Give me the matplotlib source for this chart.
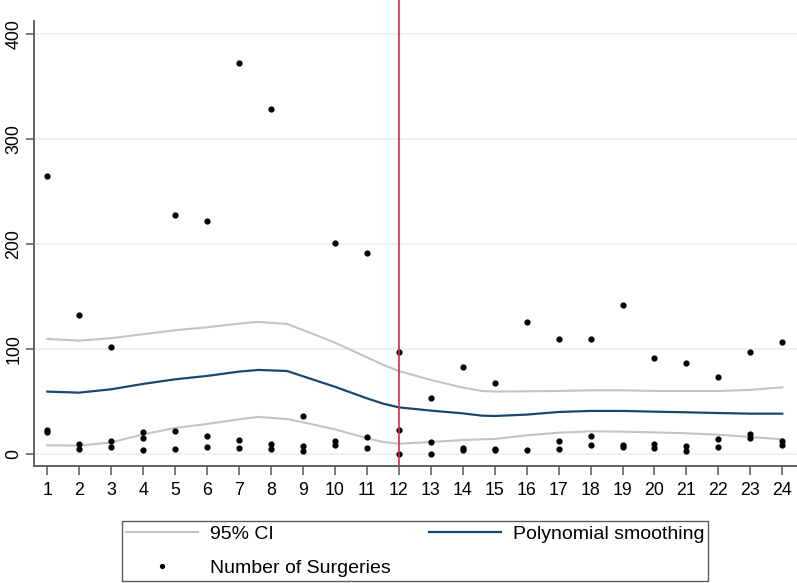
import matplotlib
matplotlib.use("Agg")
import matplotlib.pyplot as plt
from matplotlib.lines import Line2D

plt.rcParams['font.family'] = ['Liberation Sans', 'DejaVu Sans']

# observed surgeries per month (several per month)
months = [1, 1, 1,
          2, 2, 2,
          3, 3, 3,
          4, 4, 4,
          5, 5, 5,
          6, 6, 6,
          7, 7, 7,
          8, 8, 8,
          9, 9, 9,
          10, 10, 10,
          11, 11, 11,
          12, 12, 12,
          13, 13, 13,
          14, 14, 14,
          15, 15, 15,
          16, 16,
          17, 17, 17,
          18, 18, 18,
          19, 19, 19,
          20, 20, 20,
          21, 21, 21,
          22, 22, 22,
          23, 23, 23,
          24, 24, 24]
surgeries = [265, 23, 21,
             132, 10, 5,
             102, 12, 7,
             21, 15, 4,
             227, 22, 5,
             222, 17, 7,
             372, 13, 6,
             328, 10, 5,
             36, 8, 3,
             201, 12, 9,
             191, 16, 6,
             97, 23, 0,
             53, 11, 0,
             83, 6, 4,
             68, 5, 4,
             126, 4,
             109, 12, 5,
             109, 17, 9,
             142, 9, 7,
             91, 10, 6,
             87, 8, 3,
             73, 14, 7,
             97, 19, 15,
             107, 12, 9]

# smoothing grid and curves
grid = [1, 2, 3, 4, 5, 6, 7, 7.6, 8.5, 9, 10, 11, 11.5, 12, 13, 14, 14.6,
        15, 16, 17, 18, 19, 20, 21, 22, 23, 24]
fit = [59.4, 58.4, 61.6, 66.7, 71.1, 74.3, 78.4, 80.0, 79.0, 74.0, 64.0, 53.0,
       48.0, 44.4, 41.3, 38.7, 36.5, 36.2, 37.5, 40.0, 41.0, 41.0, 40.3, 39.7,
       39.0, 38.4, 38.4]
ci_hi = [109.5, 107.9, 110.2, 114.0, 117.8, 120.6, 124.1, 125.7, 123.8, 118.0,
         106.0, 92.0, 85.0, 79.0, 70.5, 63.2, 60.0, 59.4, 59.7, 60.0, 60.6,
         60.6, 60.0, 60.0, 60.0, 61.0, 63.5]
ci_lo = [8.3, 8.0, 11.1, 18.7, 24.8, 28.6, 33.0, 35.3, 33.3, 30.2, 23.5, 15.0,
         11.5, 9.8, 11.4, 13.3, 14.0, 14.3, 17.8, 20.3, 21.6, 21.3, 20.6, 19.7,
         18.4, 16.2, 14.0]

cutoff = 12
x_ticks = list(range(1, 25))
y_ticks = [0, 100, 200, 300, 400]

gray = '#c4c4c4'
navy = '#1a476f'

fig = plt.figure(figsize=(7.97, 5.83), dpi=100)
ax = fig.add_axes([34 / 797, 117 / 583, 763 / 797, 466 / 583])

for yt in y_ticks:
    ax.axhline(yt, color='#e8f1f2', lw=1.2, zorder=0)

ax.plot(grid, ci_hi, color=gray, lw=1.5, zorder=2)
ax.plot(grid, ci_lo, color=gray, lw=1.5, zorder=2)
ax.plot(grid, fit, color=navy, lw=1.6, zorder=3)
ax.scatter(months, surgeries, s=12, color='black', zorder=4)
ax.axvline(cutoff, color='#d42a4c', lw=1.2, zorder=5)

ax.set_xlim(0.584, 24.46)
ax.set_ylim(-11.4, 432)

for s in ['top', 'right']:
    ax.spines[s].set_visible(False)
for s in ['left', 'bottom']:
    ax.spines[s].set_color('#555555')
    ax.spines[s].set_linewidth(1.3)
ax.spines['left'].set_bounds(-11.4, 412)

ax.set_xticks(x_ticks)
ax.set_yticks(y_ticks)
ax.tick_params(axis='both', direction='out', length=6.5, width=1.1,
               color='#555555', labelsize=12.8, pad=5)
ax.tick_params(axis='y', length=5.5, pad=3)
for lab in ax.get_yticklabels():
    lab.set_rotation(90)
    lab.set_va('center')

handles = [Line2D([], [], color=gray, lw=1.5),
           Line2D([], [], color='black', marker='o', ms=2.8, lw=0),
           Line2D([], [], color=navy, lw=1.6)]
labels = ['95% CI', 'Number of Surgeries', 'Polynomial smoothing']
leg = fig.legend(handles, labels, ncol=2, loc='lower left',
                 bbox_to_anchor=(122 / 797, 2 / 583, 586 / 797, 62 / 583),
                 mode='expand', fontsize=14, handlelength=3.7,
                 handletextpad=0.6, borderaxespad=0, fancybox=False,
                 frameon=True, labelspacing=0.85, borderpad=0.2)
leg.get_frame().set_edgecolor('#333333')
leg.get_frame().set_linewidth(1.0)

fig.savefig('out.png', dpi=100)
